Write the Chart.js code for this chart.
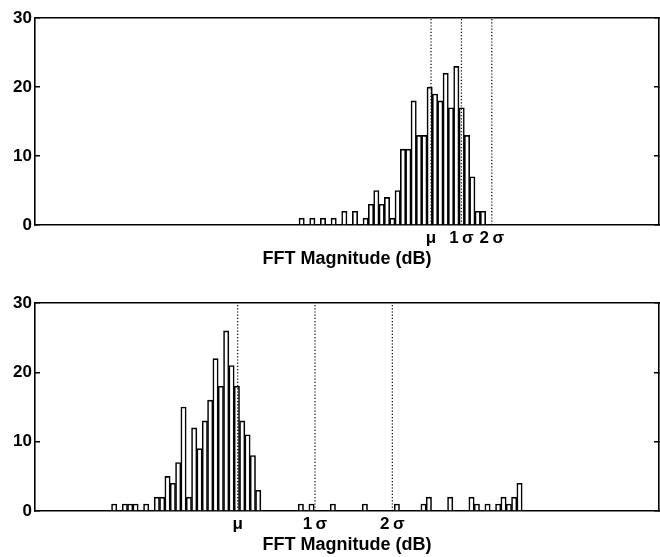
<!DOCTYPE html>
<html>
<head>
<meta charset="utf-8">
<script src="https://cdn.jsdelivr.net/npm/chart.js@4.4.1/dist/chart.umd.min.js"></script>
<style>
body { margin: 0; background: #fff; }
canvas { display: block; }
</style>
</head>
<body>
<canvas id="top" width="660" height="285"></canvas>
<canvas id="bottom" width="660" height="272"></canvas>
<script>
// bin centres (dB) and counts, only the non-empty bins
const topBins = [50, 52, 54, 56, 58, 60, 62, 63, 64, 65, 66, 67, 68, 69, 70, 71, 72, 73, 74, 75, 76, 77, 78, 79, 80, 81, 82, 83, 84];
const topCounts = [1, 1, 1, 1, 2, 2, 1, 3, 5, 3, 4, 1, 5, 11, 11, 18, 13, 13, 20, 19, 18, 22, 17, 23, 17, 13, 7, 2, 2];
const topMarks = [74.25, 79.95, 85.65];   // mu, mu+1s, mu+2s

const bottomBins = [15, 17, 18, 19, 21, 23, 24, 25, 26, 27, 28, 29, 30, 31, 32, 33, 34, 35, 36, 37, 38, 39, 40, 41, 42,
  50, 52, 56, 62, 68, 73, 74, 78, 82, 83, 85, 87, 88, 89, 90, 91];
const bottomCounts = [1, 1, 1, 1, 1, 2, 2, 5, 4, 7, 15, 2, 12, 9, 13, 16, 22, 18, 26, 21, 18, 13, 11, 8, 3,
  1, 1, 1, 1, 1, 1, 2, 2, 2, 1, 1, 1, 2, 1, 2, 4];
const bottomMarks = [38.15, 52.65, 67.15];

const markLabels = ['\u03bc', '1\u2009\u03c3', '2\u2009\u03c3'];
const yTicks = [0, 10, 20, 30];

Chart.defaults.font.family = '"Liberation Sans", Arial, sans-serif';
Chart.defaults.font.weight = 'bold';
Chart.defaults.color = '#000';

function makeChart(id, bins, counts, marks, xMin, xMax, padBottom) {
    const bars = bins.map((b, i) => ({x: b, y: counts[i]}));
    const lines = marks.map(m => ({
        type: 'line',
        data: [{x: m, y: 0}, {x: m, y: 30}],
        borderColor: '#000',
        borderWidth: 1.2,
        borderDash: [1.2, 2],
        pointRadius: 0,
        order: 1
    }));
    const frame = {color: '#000', width: 1.6};

    return new Chart(document.getElementById(id), {
        type: 'bar',
        data: {
            datasets: [{
                data: bars,
                backgroundColor: '#fff',
                borderColor: '#000',
                borderWidth: 1.6,
                barPercentage: 1,
                categoryPercentage: 1,
                order: 2
            }, ...lines]
        },
        options: {
            responsive: false,
            animation: false,
            devicePixelRatio: 1,
            layout: {padding: {top: 18, right: 1, bottom: padBottom, left: 0}},
            plugins: {legend: {display: false}, tooltip: {enabled: false}},
            scales: {
                x: {
                    type: 'linear', min: xMin, max: xMax, offset: false, z: 1,
                    grid: {display: false, drawTicks: false},
                    border: frame,
                    afterBuildTicks: s => { s.ticks = marks.map(v => ({value: v})); },
                    afterFit: s => { s.height = 46; },
                    ticks: {
                        autoSkip: false, maxRotation: 0, padding: 3,
                        font: {size: 17},
                        callback: (v, i) => markLabels[i]
                    },
                    title: {
                        display: true, text: 'FFT Magnitude (dB)',
                        font: {size: 18, weight: 'bold'},
                        padding: {top: 0, bottom: 1}
                    }
                },
                xTop: {
                    type: 'linear', position: 'top', min: xMin, max: xMax, z: 1,
                    grid: {display: false, drawTicks: false},
                    ticks: {display: false},
                    border: frame,
                    afterFit: s => { s.height = 0; }
                },
                y: {
                    min: 0, max: 30, z: 1,
                    afterBuildTicks: s => { s.ticks = yTicks.map(v => ({value: v})); },
                    grid: {drawOnChartArea: false, tickLength: -5, color: '#000', lineWidth: 1.5},
                    border: frame,
                    ticks: {padding: 8, font: {size: 17}},
                    afterFit: s => { s.width = 35; }
                },
                yRight: {
                    position: 'right', min: 0, max: 30, z: 1,
                    afterBuildTicks: s => { s.ticks = yTicks.map(v => ({value: v})); },
                    grid: {drawOnChartArea: false, tickLength: -5, color: '#000', lineWidth: 1.5},
                    border: frame,
                    ticks: {display: false},
                    afterFit: s => { s.width = 0; }
                }
            }
        }
    });
}

makeChart('top', topBins, topCounts, topMarks, 0, 117, 14);
makeChart('bottom', bottomBins, bottomCounts, bottomMarks, 0.15, 117.15, 0);
</script>
</body>
</html>
